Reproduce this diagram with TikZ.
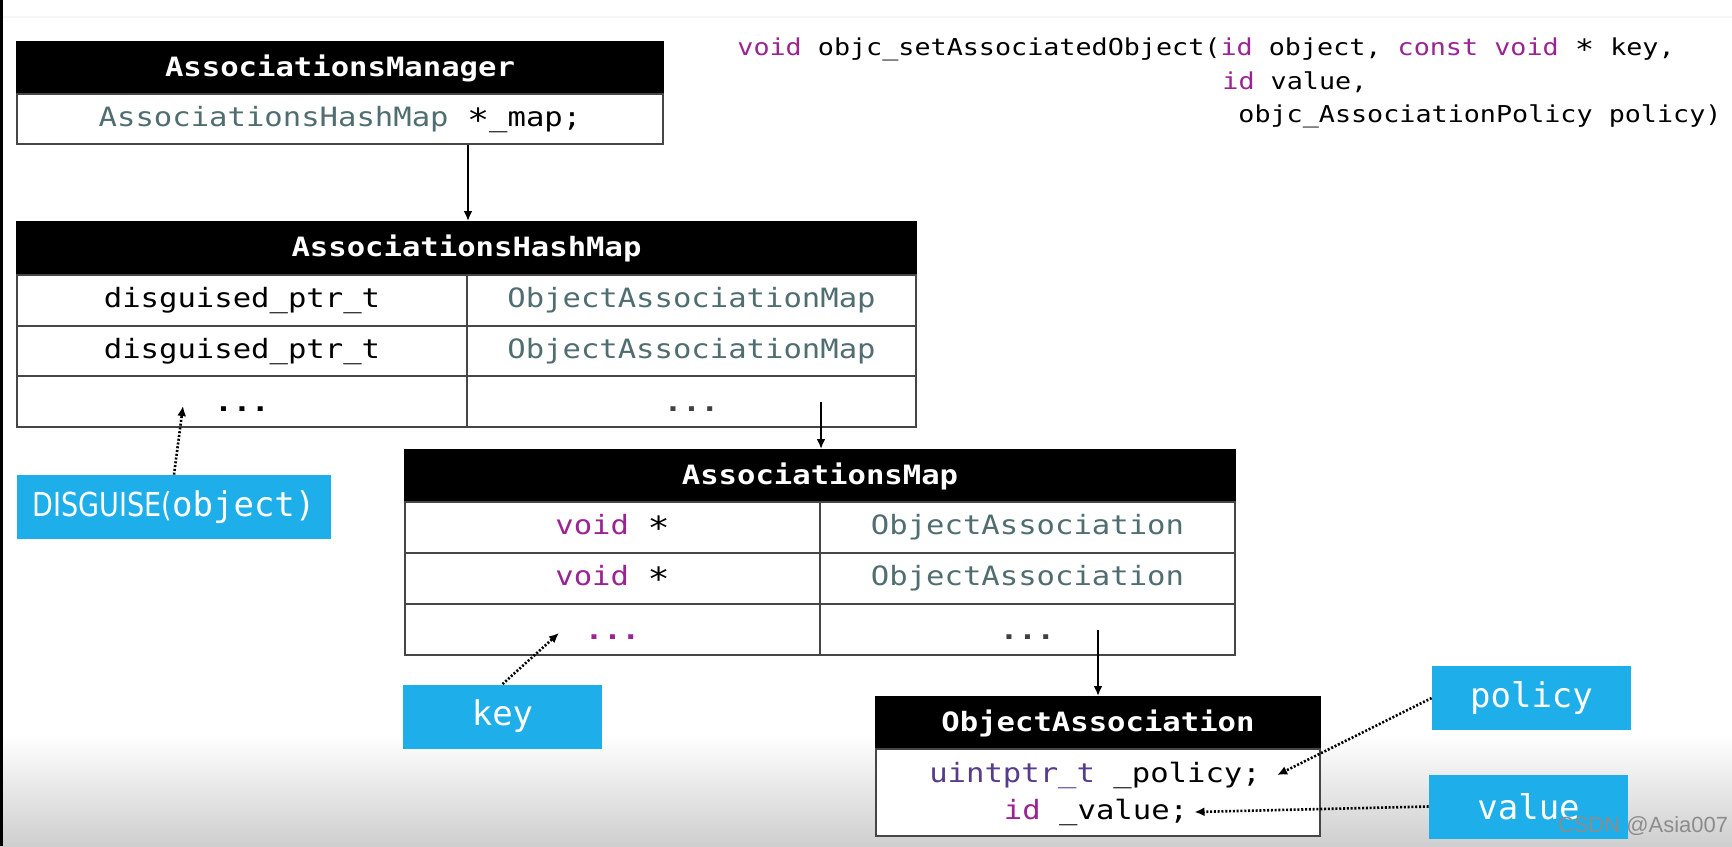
\documentclass[tikz,border=0pt]{standalone}
\usepackage{fontspec}
\setmainfont{DejaVu Sans}
\newfontfamily\mw[FakeStretch=1.15]{DejaVu Sans Mono}
\newfontfamily\mn{DejaVu Sans Mono}
\newfontfamily\condsans[FakeStretch=0.82]{DejaVu Sans}
\newfontfamily\wmfont{Liberation Sans}
\usetikzlibrary{arrows.meta}
\definecolor{kw}{RGB}{155,35,147}
\definecolor{ty}{RGB}{80,110,112}
\definecolor{ty2}{RGB}{88,60,140}
\definecolor{cyanbox}{RGB}{30,174,234}
\definecolor{edge}{RGB}{70,70,70}
\newcommand\midast{\raisebox{-0.2em}{\scalebox{1.2}{*}}}
\newcommand\dotsb{\raisebox{-0.12em}{\bfseries ...}}
\tikzset{
  hdr/.style={fill=black, draw=black, text=white, font=\mw\bfseries\fontsize{13.3}{16}\selectfont, inner sep=0pt, line width=1pt},
  cell/.style={draw=edge, fill=white, font=\mw\fontsize{13.3}{16}\selectfont, inner sep=0pt, line width=1pt, text height=9.5pt, text depth=2.5pt},
  celltext/.style={font=\mw\fontsize{13.3}{16}\selectfont, inner ysep=0pt},
  tag/.style={fill=cyanbox, text=white, font=\mn\fontsize{17}{20}\selectfont, inner sep=0pt, minimum width=99.5pt, minimum height=32pt},
  arr/.style={-{Latex[length=5pt,width=4.5pt]}, line width=1pt, black},
  dotarr/.style={-{Latex[length=5pt,width=4.5pt]}, line width=1.3pt, black, dash pattern=on 1pt off 0.9pt},
  code/.style={font=\mw\fontsize{11.63}{14}\selectfont, anchor=base west, inner sep=0pt},
}
\begin{document}
\begin{tikzpicture}[x=0.5pt,y=-0.5pt]
\useasboundingbox (0,0) rectangle (1732,846);
\fill[white] (0,0) rectangle (1732,846);
\shade[top color=white, bottom color=black!19] (0,735) rectangle (1732,846);
\fill[black] (0,0) rectangle (3,846);
\draw[black!3, line width=1pt] (3,17) -- (1732,17);

% function signature
\node[code] (sig1) at (737,55) {\textcolor{kw}{void} objc\_setAssociatedObject(\textcolor{kw}{id} object, \textcolor{kw}{const void} \midast{} key,};
\node[code] (sig2) at (1222,89) {\textcolor{kw}{id} value,};
\node[code] (sig3) at (1238,122) {objc\_AssociationPolicy policy)};

% AssociationsManager
\node[hdr, minimum width=323pt, minimum height=26pt] (amhead) at (340,68) {AssociationsManager};
\node[cell, minimum width=323pt, minimum height=25pt] (amrow) at (340,119) {\textcolor{ty}{AssociationsHashMap} \midast\_map;};

% AssociationsHashMap
\node[hdr, minimum width=449.5pt, minimum height=26.5pt] (hmhead) at (466.5,248.5) {AssociationsHashMap};
\node[cell, minimum width=225pt, minimum height=25.33pt] (hm1L) at (242,300.3) {disguised\_ptr\_t};
\node[cell, minimum width=224.5pt, minimum height=25.33pt] (hm1R) at (691.5,300.3) {\textcolor{ty}{ObjectAssociationMap}};
\node[cell, minimum width=225pt, minimum height=25.33pt] (hm2L) at (242,351) {disguised\_ptr\_t};
\node[cell, minimum width=224.5pt, minimum height=25.33pt] (hm2R) at (691.5,351) {\textcolor{ty}{ObjectAssociationMap}};
\node[cell, minimum width=225pt, minimum height=25.33pt] (hm3L) at (242,401.7) {\dotsb};
\node[cell, minimum width=224.5pt, minimum height=25.33pt] (hm3R) at (691.5,401.7) {\textcolor{black!75}{\dotsb}};

% AssociationsMap
\node[hdr, minimum width=415pt, minimum height=26pt] (mphead) at (820,476) {AssociationsMap};
\node[cell, minimum width=207.5pt, minimum height=25.5pt] (mp1L) at (612.5,527.5) {\textcolor{kw}{void} \midast};
\node[cell, minimum width=207.5pt, minimum height=25.5pt] (mp1R) at (1027.5,527.5) {\textcolor{ty}{ObjectAssociation}};
\node[cell, minimum width=207.5pt, minimum height=25.5pt] (mp2L) at (612.5,578.5) {\textcolor{kw}{void} \midast};
\node[cell, minimum width=207.5pt, minimum height=25.5pt] (mp2R) at (1027.5,578.5) {\textcolor{ty}{ObjectAssociation}};
\node[cell, minimum width=207.5pt, minimum height=25.5pt] (mp3L) at (612.5,629.5) {\textcolor{kw}{\dotsb}};
\node[cell, minimum width=207.5pt, minimum height=25.5pt] (mp3R) at (1027.5,629.5) {\textcolor{black!75}{\dotsb}};

% ObjectAssociation
\node[hdr, minimum width=222pt, minimum height=26pt] (oahead) at (1098,723) {ObjectAssociation};
\node[cell, minimum width=222pt, minimum height=43.5pt] (oabody) at (1098,792.5) {};
\node[celltext, inner xsep=8pt] (pol) at (1095,775) {\textcolor{ty2}{uintptr\_t} \_policy;};
\node[celltext, inner xsep=3pt] (val) at (1096,812) {\textcolor{kw}{id} \_value;};

% tags
\node[tag, minimum width=157pt] (dis) at (174,507) {{\condsans\fontsize{16.5}{20}\selectfont DISGUISE(}object)};
\node[tag] (key) at (502.5,716.5) {key};
\node[tag] (policy) at (1531.5,698) {policy};
\node[tag] (value) at (1528.5,806.5) {value};

% connectors
\draw[arr] (hm1L.north east |- amrow.south) -- (hm1L.north east |- hmhead.north);
\draw[arr] (mp1L.north east |- hm3R.center) -- (mp1L.north east |- mphead.north);
\draw[arr] (oahead.north |- mp3R.center) -- (oahead.north);

\coordinate (hmdots) at (183,406);
\coordinate (mpdots) at (559,633);
\draw[dotarr] (dis.north) -- (hmdots);
\draw[dotarr] (key.north) -- (mpdots);
\draw[dotarr] (policy.west) -- (pol.east);
\draw[dotarr] (value.west) -- (val.east);

% watermark
\node[font=\wmfont\fontsize{11}{13}\selectfont, text=black!45, inner sep=0pt] (wm) at (1643,826) {CSDN @Asia007};
\end{tikzpicture}
\end{document}
